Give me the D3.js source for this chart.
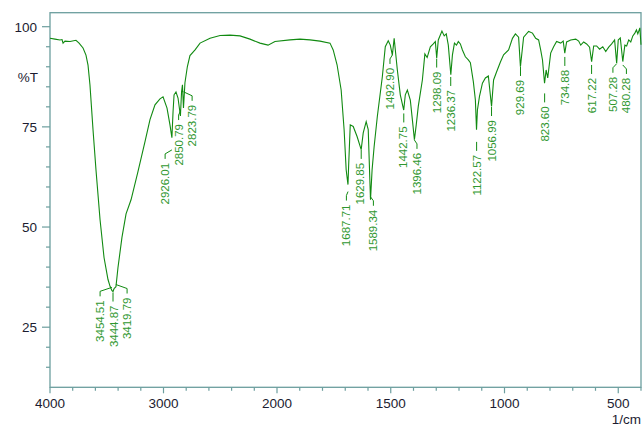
<!DOCTYPE html>
<html>
<head>
<meta charset="utf-8">
<script src="https://cdn.jsdelivr.net/npm/d3@7"></script>
<style>
  body { margin: 0; background: #fff; }
  svg { display: block; }
  text { font-family: "Liberation Sans", Arial, sans-serif; }
</style>
</head>
<body>
<svg id="chart" width="644" height="426"></svg>
<script>
// spectrum (1/cm, %T)
var waveNumbers = [4000, 3956, 3912, 3894, 3885, 3868, 3824, 3771, 3744, 3709, 3683, 3665, 3648, 3621, 3595,
  3559, 3524, 3489, 3471, 3454, 3445, 3436, 3419, 3401, 3366, 3330, 3286, 3225, 3163, 3119, 3075, 3031,
  3004, 2969, 2943, 2926, 2916, 2907, 2890, 2872, 2851, 2841, 2833, 2824, 2811, 2790, 2767, 2722, 2678,
  2590, 2502, 2414, 2326, 2238, 2150, 2079, 2018, 1943, 1899, 1855, 1811, 1767, 1753, 1736, 1718, 1705,
  1696, 1688, 1685, 1678, 1665, 1648, 1630, 1621, 1608, 1599, 1589, 1582, 1573, 1559, 1537, 1524, 1511,
  1502, 1493, 1485, 1471, 1458, 1443, 1436, 1427, 1414, 1405, 1396, 1388, 1379, 1361, 1350, 1340, 1326,
  1313, 1304, 1298, 1291, 1275, 1265, 1256, 1247, 1236, 1229, 1220, 1211, 1203, 1194, 1185, 1172, 1159,
  1150, 1137, 1128, 1123, 1119, 1110, 1097, 1084, 1071, 1057, 1048, 1035, 1018, 1004, 982, 965, 952, 938,
  930, 916, 894, 877, 863, 850, 841, 833, 824, 817, 810, 797, 784, 771, 753, 742, 735, 727, 709, 687, 674,
  665, 652, 639, 626, 617, 608, 595, 582, 568, 555, 542, 529, 516, 507, 500, 491, 480, 471, 463, 454, 445,
  436, 427, 420, 414, 405, 400];
var transmittance = [97.1, 96.9, 96.7, 96.8, 95.9, 96.4, 96.3, 96.6, 95.9, 94.7, 92.9, 90.4, 85.5, 74.3, 64.3,
  51.8, 42.4, 36.9, 35.2, 34.1, 33.9, 34.6, 35.1, 39.9, 47.4, 53.3, 56.8, 63.8, 71.3, 76.8, 80.5, 82.0,
  82.5, 79.7, 75.5, 72.3, 78.7, 83.0, 83.7, 82.2, 77.7, 83.7, 85.5, 79.7, 86.0, 90.0, 92.8, 94.2, 95.9,
  97.1, 97.8, 97.9, 97.7, 96.9, 95.9, 95.4, 96.3, 96.7, 96.9, 96.7, 96.4, 95.9, 94.2, 90.5, 84.2, 74.3,
  64.3, 60.6, 65.5, 75.5, 75.1, 72.6, 69.3, 73.5, 76.3, 74.3, 56.8, 64.3, 70.1, 77.6, 87.5, 95.0, 96.5,
  95.4, 92.9, 97.1, 89.2, 83.0, 79.2, 83.0, 84.2, 81.7, 76.8, 71.8, 75.5, 80.1, 86.7, 93.2, 92.3, 95.0,
  95.7, 96.3, 92.2, 96.7, 98.9, 97.7, 98.2, 95.4, 88.0, 92.9, 95.9, 95.4, 96.3, 95.7, 94.2, 92.5, 91.7,
  91.0, 86.3, 81.7, 74.3, 79.2, 82.6, 85.9, 87.2, 87.7, 80.1, 86.7, 88.7, 91.2, 93.0, 94.2, 97.1, 98.2, 97.4,
  90.0, 97.4, 98.8, 98.4, 97.1, 96.7, 94.2, 91.7, 85.9, 89.2, 87.2, 93.4, 95.0, 96.3, 95.9, 96.4, 93.4, 96.2,
  96.7, 96.9, 96.4, 95.4, 96.2, 95.7, 94.9, 91.3, 95.2, 95.2, 94.4, 95.0, 93.8, 94.9, 95.7, 96.7, 90.9, 96.7,
  97.2, 91.3, 95.4, 95.2, 96.7, 96.2, 97.7, 98.4, 99.2, 98.2, 99.7, 95.5];

// labelled peaks
var peakLabels = ["3454.51", "3444.87", "3419.79", "2926.01", "2850.79", "2823.79", "1687.71", "1629.85",
  "1589.34", "1492.90", "1442.75", "1396.46", "1298.09", "1236.37", "1122.57", "1056.99", "929.69",
  "823.60", "734.88", "617.22", "507.28", "480.28"];
var peakT = [35.7, 34.4, 36.4, 70.0, 79.7, 84.5, 59.6, 70.0, 58.3, 93.7, 79.1, 72.5, 92.8, 88.2, 72.0,
  80.7, 90.7, 84.1, 93.2, 91.2, 91.5, 91.2];

var xTickLabels = [4000, 3000, 2000, 1500, 1000, 500];
var yTickLabels = [25, 50, 75, 100];

var svg = d3.select("#chart");
var plotLeft = 50, plotRight = 641, plotTop = 12.7, plotBottom = 387.3;
var axisColor = "#6c9e9e", lineColor = "#118a11", labelColor = "#2f972f";

// the x axis changes scale at 2000
var x = d3.scaleLinear().domain([4000, 2000, 400]).range([plotLeft, 277, plotRight]);
var y = d3.scaleLinear().domain([10, 100]).range([plotBottom, 26.7]);
var yMax = y.invert(plotTop);

// frame
svg.append("rect")
  .attr("x", plotLeft).attr("y", plotTop)
  .attr("width", plotRight - plotLeft).attr("height", plotBottom - plotTop)
  .attr("fill", "none").attr("stroke", axisColor).attr("stroke-width", 1.3);

// x ticks: 200 apart above 2000, 100 apart below
var xMinor = d3.range(4000, 1999, -200).concat(d3.range(1900, 399, -100));
svg.append("g").selectAll("line").data(xMinor).enter().append("line")
  .attr("x1", function(d) { return x(d); }).attr("x2", function(d) { return x(d); })
  .attr("y1", plotBottom)
  .attr("y2", function(d) { return xTickLabels.indexOf(d) >= 0 ? plotBottom + 6 : plotBottom + 3.5; })
  .attr("stroke", axisColor).attr("stroke-width", 1.2);
svg.append("g").selectAll("text").data(xTickLabels).enter().append("text")
  .attr("x", function(d) { return x(d); }).attr("y", 408)
  .attr("text-anchor", "middle").attr("font-size", "13.5px").attr("fill", "#1c1c30")
  .text(function(d) { return d; });

// y ticks
var yMinor = d3.range(15, yMax, 5);
svg.append("g").selectAll("line").data(yMinor).enter().append("line")
  .attr("y1", function(d) { return y(d); }).attr("y2", function(d) { return y(d); })
  .attr("x1", plotLeft)
  .attr("x2", function(d) { return d % 25 === 0 ? plotLeft - 8 : plotLeft - 4; })
  .attr("stroke", axisColor).attr("stroke-width", 1.2);
svg.append("g").selectAll("text").data(yTickLabels).enter().append("text")
  .attr("x", 37).attr("y", function(d) { return y(d) + 5; })
  .attr("text-anchor", "end").attr("font-size", "13.5px").attr("fill", "#1c1c30")
  .text(function(d) { return d; });

svg.append("text").attr("x", 38).attr("y", 82).attr("text-anchor", "end")
  .attr("font-size", "13.5px").attr("fill", "#1c1c30").text("%T");
svg.append("text").attr("x", 641).attr("y", 424).attr("text-anchor", "end")
  .attr("font-size", "13.5px").attr("fill", "#1c1c30").text("1/cm");

// spectrum
var points = waveNumbers.map(function(w, i) { return [w, transmittance[i]]; });
var line = d3.line().x(function(d) { return x(d[0]); }).y(function(d) { return y(d[1]); });
svg.append("path").datum(points)
  .attr("d", line)
  .attr("fill", "none").attr("stroke", lineColor).attr("stroke-width", 1.1);

// peak labels, spread so close ones don't collide
var peaks = peakLabels.map(function(s, i) {
  var px = x(+s);
  return { text: s, px: px, lx: px, py: y(peakT[i]) };
});
var gap = 13.5;
for (var it = 0; it < 200; it++) {
  for (var i = 1; i < peaks.length; i++) {
    var d = peaks[i].lx - peaks[i - 1].lx;
    if (d < gap) {
      var push = (gap - d) / 2;
      peaks[i - 1].lx -= push;
      peaks[i].lx += push;
    }
  }
}

var lg = svg.append("g");
peaks.forEach(function(p) {
  var pts;
  if (Math.abs(p.lx - p.px) < 1.5) {
    pts = [[p.px, p.py + 3], [p.px, p.py + 12]];
  } else {
    pts = [[p.px, p.py + 3], [p.lx, p.py + 7], [p.lx, p.py + 12]];
  }
  lg.append("path")
    .attr("d", d3.line()(pts))
    .attr("fill", "none").attr("stroke", lineColor).attr("stroke-width", 1);
  lg.append("text")
    .attr("transform", "translate(" + (p.lx + 4) + "," + (p.py + 16) + ") rotate(-90)")
    .attr("text-anchor", "end")
    .attr("font-size", "11.5px").attr("fill", labelColor)
    .text(p.text);
});
</script>
</body>
</html>
